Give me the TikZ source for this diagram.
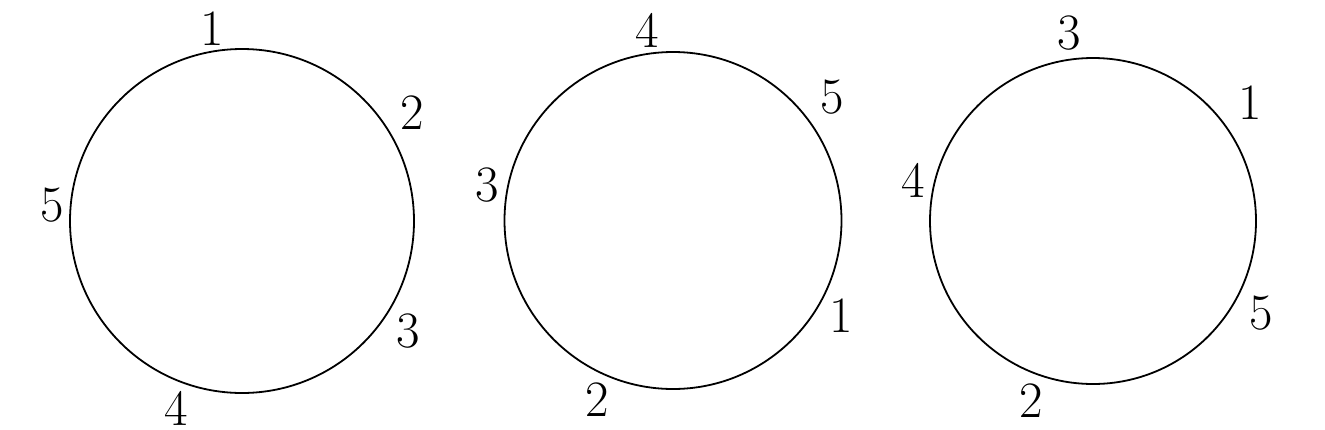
\documentclass[tikz,border=0pt]{standalone}
\begin{document}
\begin{tikzpicture}[x=1pt,y=-1pt,
  ring/.style={draw,line width=1.8pt,circle,inner sep=0pt},
  lab/.style={inner sep=0pt,font=\fontsize{51}{60}\selectfont}]
\useasboundingbox (0,0) rectangle (1325,429);
\node[ring,minimum size=344pt] (c1) at (242,221) {};
\node[ring,minimum size=337pt] (c2) at (673,220.5) {};
\node[ring,minimum size=326pt] (c3) at (1093,221) {};
% circle 1
\node[lab] (a1) at (212,29) {1};
\node[lab] (a2) at (412,113) {2};
\node[lab] (a3) at (408,331) {3};
\node[lab] (a4) at (176,408) {4};
\node[lab] (a5) at (52,205) {5};
% circle 2
\node[lab] (b4) at (647,30) {4};
\node[lab] (b5) at (832,97) {5};
\node[lab] (b3) at (487,185) {3};
\node[lab] (b1) at (841,316) {1};
\node[lab] (b2) at (597,400) {2};
% circle 3
\node[lab] (d3) at (1069,33) {3};
\node[lab] (d1) at (1250,103) {1};
\node[lab] (d4) at (913,180) {4};
\node[lab] (d5) at (1261,313) {5};
\node[lab] (d2) at (1031,401) {2};
\end{tikzpicture}
\end{document}
